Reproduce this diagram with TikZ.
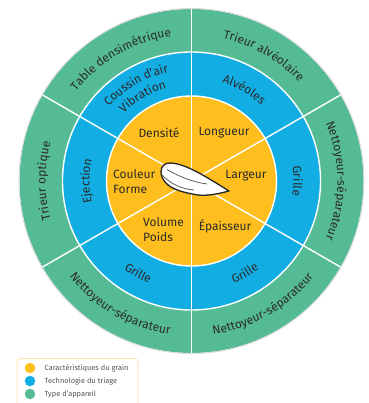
\documentclass[tikz,border=0pt]{standalone}
\usepackage{fontspec}
\setmainfont{Fira Sans}
\usetikzlibrary{decorations.text}
\definecolor{ringgreen}{HTML}{55BB94}
\definecolor{ringblue}{HTML}{12ADE3}
\definecolor{ringyellow}{HTML}{FDBE1E}
\definecolor{inkdark}{HTML}{2B2B2B}
\definecolor{legendedge}{HTML}{FCE3A8}
\definecolor{legendink}{HTML}{555555}
\newcommand{\ringfont}{\fontsize{12pt}{15pt}\selectfont\color{inkdark}}
% radius, start angle, end angle, text
\newcommand{\arctext}[4]{%
  \path[decorate,decoration={text along path,text align=center,
    text={|\ringfont|#4}}] (#2:#1) arc[start angle=#2,end angle=#3,radius=#1pt];}
\tikzset{
  ringline/.style={draw=white,line width=1.4pt},
  graintext/.style={font=\ringfont,inner sep=0pt,align=left},
  legendtext/.style={font=\fontsize{7.4pt}{8pt}\selectfont,text=legendink,anchor=west,inner sep=0pt},
  legenddot/.style={circle,minimum size=10.5pt,inner sep=0pt}
}
\begin{document}
\begin{tikzpicture}[x=1pt,y=1pt]
\useasboundingbox (0,0) rectangle (368,-403);
\begin{scope}[shift={(191.5,-181)}]
  \fill[ringgreen] (0,0) circle[radius=172pt];
  \draw[black!14,line width=1pt] (0,0) circle[radius=172.5pt];
  \fill[ringblue] (0,0) circle[radius=129pt];
  \draw[ringline] (0,0) circle[radius=129pt];
  \fill[ringyellow] (0,0) circle[radius=85pt];
  \draw[ringline] (0,0) circle[radius=85pt];
  \foreach \a in {30,90,150,210,270,330}
    \draw[ringline] (0,0) -- (\a:172pt);
  % outer ring
  \arctext{146}{90}{30}{Trieur alvéolaire}
  \arctext{146}{150}{90}{Table densimétrique}
  \arctext{146}{210}{150}{Trieur optique}
  \arctext{146}{32}{-32}{Nettoyeur-séparateur}
  \arctext{155}{205}{275}{Nettoyeur-séparateur}
  \arctext{155}{265}{335}{Nettoyeur-séparateur}
  % middle ring
  \arctext{103}{85}{35}{Alvéoles}
  \arctext{102}{20}{-20}{Grille}
  \arctext{102}{200}{160}{Ejection}
  \arctext{111}{215}{265}{Grille}
  \arctext{111}{275}{325}{Grille}
  \arctext{111}{150}{90}{Coussin d'air}
  \arctext{96}{150}{90}{Vibration}
\end{scope}
% grain characteristics
\node[graintext] (densite) at (159,-133) {Densité};
\node[graintext] (longueur) at (224,-133) {Longueur};
\node[graintext] (largeur) at (246,-176) {Largeur};
\node[graintext,anchor=west] (couleur) at (113,-182) {Couleur\\Forme};
\node[graintext,anchor=west] (volume) at (143,-229.5) {Volume\\Poids};
\node[graintext] (epaisseur) at (225,-226) {Épaisseur};
% grain
\draw[fill=white,draw=black!85,line width=1.3pt,line join=round]
  (161,-172) .. controls (161,-166) and (165,-162.5) .. (171,-163)
  .. controls (186,-164) and (205,-176) .. (229,-191)
  .. controls (218,-194) and (207,-196) .. (198,-195)
  .. controls (186,-193) and (172,-190) .. (166,-183)
  .. controls (163,-180) and (161,-176) .. (161,-172) -- cycle;
\draw[black!70,line width=0.7pt] (167,-169.5) .. controls (178,-176) and (192,-182) .. (207,-184);
\draw[black!70,line width=0.7pt] (162,-175) .. controls (170,-183) and (180,-189) .. (194,-190);
% legend
\draw[legendedge,line width=0.8pt,rounded corners=4pt] (17,-358.5) rectangle (138,-408);
\node[legenddot,fill=ringyellow] (ly) at (30,-368) {};
\node[legenddot,fill=ringblue] (lb) at (30,-381) {};
\node[legenddot,fill=ringgreen] (lg) at (30,-394) {};
\node[legendtext] (ty) at (44.5,-368) {Caractéristiques du grain};
\node[legendtext] (tb) at (44.5,-381) {Technologie du triage};
\node[legendtext] (tg) at (44.5,-394) {Type d'appareil};
\end{tikzpicture}
\end{document}
